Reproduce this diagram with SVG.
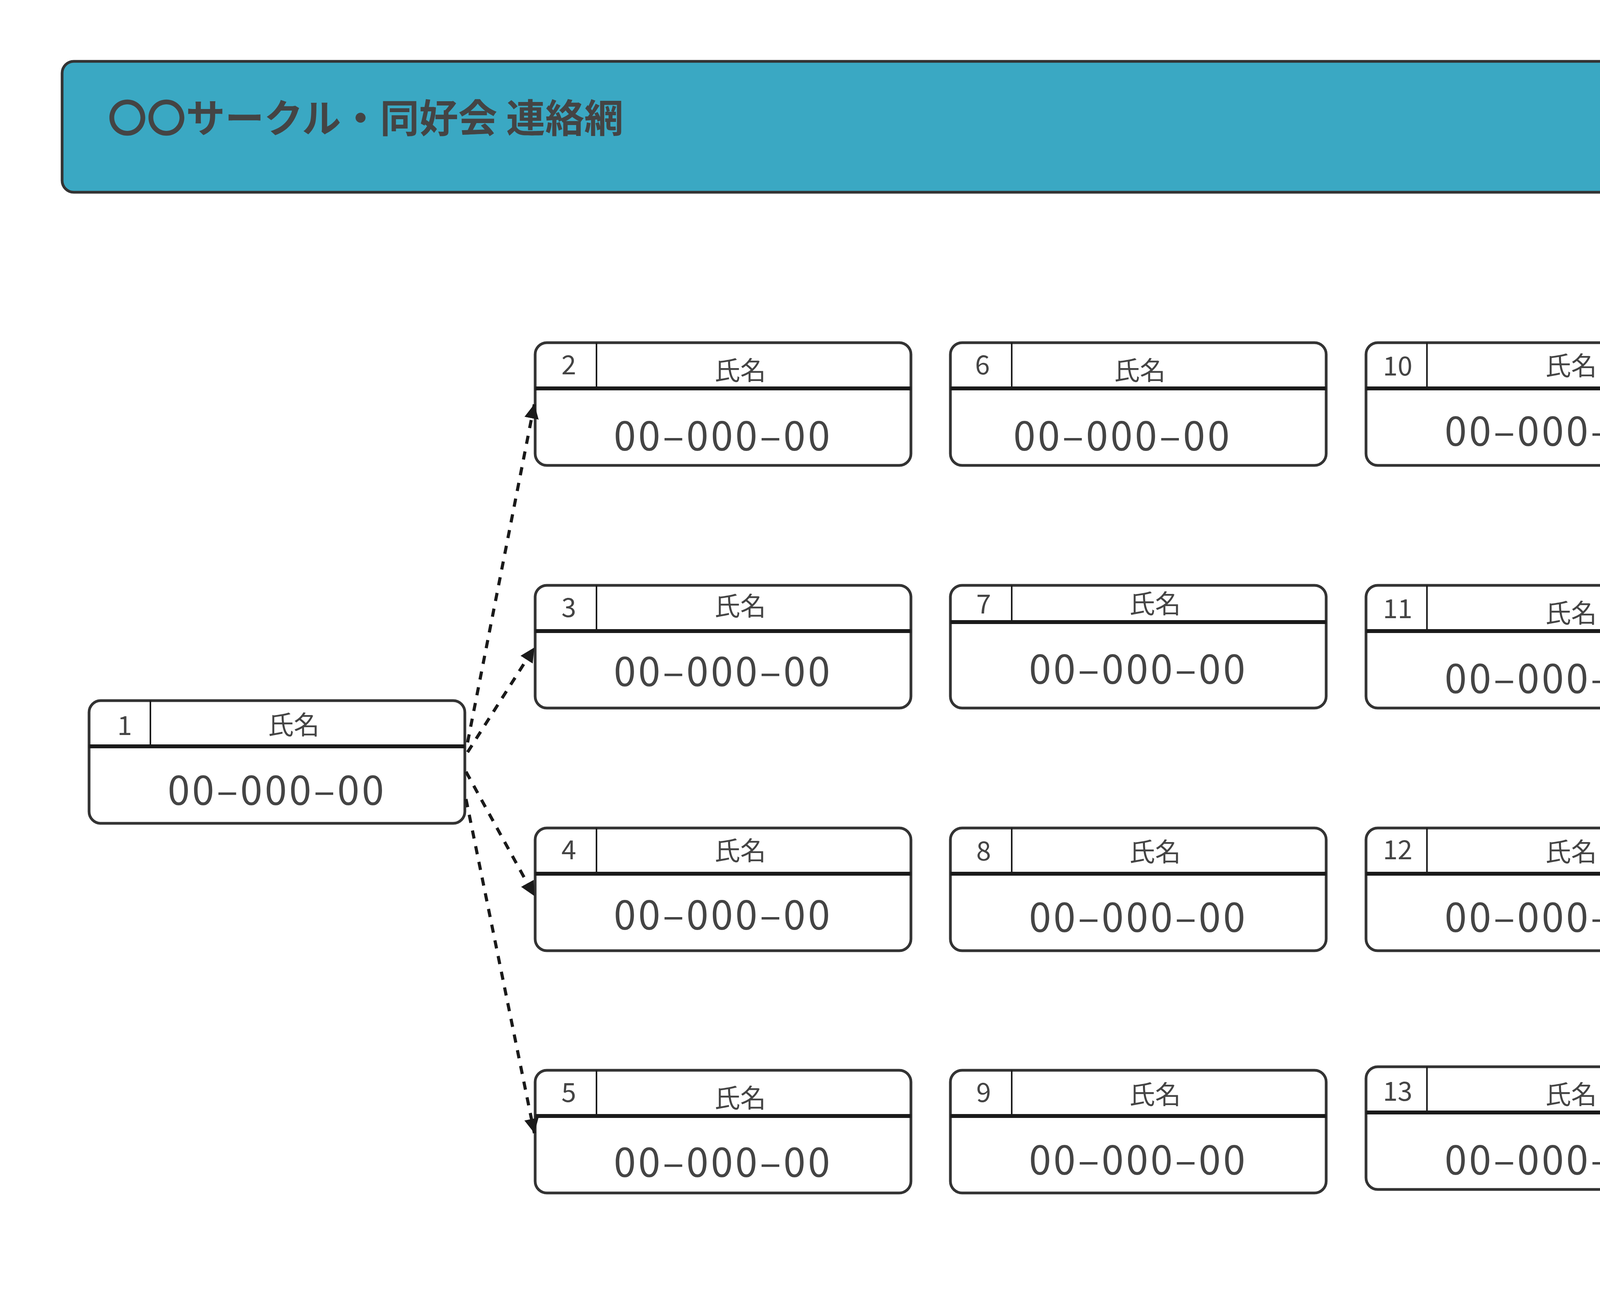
<svg xmlns="http://www.w3.org/2000/svg" width="4679" height="3309" viewBox="0 0 4679 3309">
<style>
  text { font-family: 'Noto Sans CJK JP', 'Noto Sans', sans-serif; fill: #444444; }
  .title { font-size: 100px; font-weight: 700; }
  .box { fill: #ffffff; stroke: #333333; stroke-width: 7; }
  .div { stroke: #1a1a1a; stroke-width: 10; }
  .sep { stroke: #1a1a1a; stroke-width: 4; }
  .num { font-size: 68px; text-anchor: middle; }
  .name { font-size: 66px; text-anchor: middle; }
  .tel { font-size: 102px; text-anchor: middle; letter-spacing: 6px; }
  .conn { fill: none; stroke: #1a1a1a; stroke-width: 8; stroke-dasharray: 21 20; }
</style>
<defs>
  <marker id="arrow" markerUnits="userSpaceOnUse" markerWidth="40" markerHeight="40" refX="37" refY="18.5" orient="auto">
    <path d="M0,0 L37,18.5 L0,37 Z" fill="#1a1a1a"/>
  </marker>
</defs>
<rect width="4679" height="3309" fill="#ffffff"/>
<g id="title">
  <rect x="159" y="157" width="4350" height="335" rx="30" fill="#3aa8c3" stroke="#333333" stroke-width="7"/>
  <text class="title" x="276" y="339">〇〇サークル・同好会 連絡網</text>
</g>
<g id="node-1">
  <rect class="box" x="228" y="1793" width="962" height="314" rx="30"/>
  <line class="div" x1="228" y1="1910" x2="1190" y2="1910"/>
  <line class="sep" x1="385" y1="1793" x2="385" y2="1910"/>
  <text class="num" x="319" y="1881">1</text>
  <text class="name" x="752" y="1879">氏名</text>
  <text class="tel" x="709" y="2060">00–000–00</text>
</g>
<g id="node-2">
  <rect class="box" x="1370" y="877" width="962" height="314" rx="30"/>
  <line class="div" x1="1370" y1="994" x2="2332" y2="994"/>
  <line class="sep" x1="1527" y1="877" x2="1527" y2="994"/>
  <text class="num" x="1456" y="958">2</text>
  <text class="name" x="1895" y="972">氏名</text>
  <text class="tel" x="1851" y="1153">00–000–00</text>
</g>
<g id="node-3">
  <rect class="box" x="1370" y="1498" width="962" height="314" rx="30"/>
  <line class="div" x1="1370" y1="1615" x2="2332" y2="1615"/>
  <line class="sep" x1="1527" y1="1498" x2="1527" y2="1615"/>
  <text class="num" x="1456" y="1579">3</text>
  <text class="name" x="1895" y="1575">氏名</text>
  <text class="tel" x="1851" y="1756">00–000–00</text>
</g>
<g id="node-4">
  <rect class="box" x="1370" y="2119" width="962" height="314" rx="30"/>
  <line class="div" x1="1370" y1="2236" x2="2332" y2="2236"/>
  <line class="sep" x1="1527" y1="2119" x2="1527" y2="2236"/>
  <text class="num" x="1456" y="2199">4</text>
  <text class="name" x="1895" y="2201">氏名</text>
  <text class="tel" x="1851" y="2379">00–000–00</text>
</g>
<g id="node-5">
  <rect class="box" x="1370" y="2739" width="962" height="314" rx="30"/>
  <line class="div" x1="1370" y1="2856" x2="2332" y2="2856"/>
  <line class="sep" x1="1527" y1="2739" x2="1527" y2="2856"/>
  <text class="num" x="1456" y="2820">5</text>
  <text class="name" x="1895" y="2834">氏名</text>
  <text class="tel" x="1851" y="3012">00–000–00</text>
</g>
<g id="node-6">
  <rect class="box" x="2433" y="877" width="962" height="314" rx="30"/>
  <line class="div" x1="2433" y1="994" x2="3395" y2="994"/>
  <line class="sep" x1="2590" y1="877" x2="2590" y2="994"/>
  <text class="num" x="2515" y="958">6</text>
  <text class="name" x="2918" y="972">氏名</text>
  <text class="tel" x="2874" y="1153">00–000–00</text>
</g>
<g id="node-7">
  <rect class="box" x="2433" y="1498" width="962" height="314" rx="30"/>
  <line class="div" x1="2433" y1="1592" x2="3395" y2="1592"/>
  <line class="sep" x1="2590" y1="1498" x2="2590" y2="1592"/>
  <text class="num" x="2518" y="1570">7</text>
  <text class="name" x="2957" y="1569">氏名</text>
  <text class="tel" x="2914" y="1750">00–000–00</text>
</g>
<g id="node-8">
  <rect class="box" x="2433" y="2119" width="962" height="314" rx="30"/>
  <line class="div" x1="2433" y1="2236" x2="3395" y2="2236"/>
  <line class="sep" x1="2590" y1="2119" x2="2590" y2="2236"/>
  <text class="num" x="2518" y="2202">8</text>
  <text class="name" x="2957" y="2204">氏名</text>
  <text class="tel" x="2914" y="2385">00–000–00</text>
</g>
<g id="node-9">
  <rect class="box" x="2433" y="2739" width="962" height="314" rx="30"/>
  <line class="div" x1="2433" y1="2856" x2="3395" y2="2856"/>
  <line class="sep" x1="2590" y1="2739" x2="2590" y2="2856"/>
  <text class="num" x="2518" y="2820">9</text>
  <text class="name" x="2957" y="2825">氏名</text>
  <text class="tel" x="2914" y="3006">00–000–00</text>
</g>
<g id="node-10">
  <rect class="box" x="3497" y="877" width="962" height="314" rx="30"/>
  <line class="div" x1="3497" y1="994" x2="4459" y2="994"/>
  <line class="sep" x1="3653" y1="877" x2="3653" y2="994"/>
  <text class="num" x="3578" y="961">10</text>
  <text class="name" x="4022" y="960">氏名</text>
  <text class="tel" x="3978" y="1141">00–000–00</text>
</g>
<g id="node-11">
  <rect class="box" x="3497" y="1498" width="962" height="314" rx="30"/>
  <line class="div" x1="3497" y1="1615" x2="4459" y2="1615"/>
  <line class="sep" x1="3653" y1="1498" x2="3653" y2="1615"/>
  <text class="num" x="3578" y="1582">11</text>
  <text class="name" x="4022" y="1593">氏名</text>
  <text class="tel" x="3978" y="1774">00–000–00</text>
</g>
<g id="node-12">
  <rect class="box" x="3497" y="2119" width="962" height="314" rx="30"/>
  <line class="div" x1="3497" y1="2236" x2="4459" y2="2236"/>
  <line class="sep" x1="3653" y1="2119" x2="3653" y2="2236"/>
  <text class="num" x="3578" y="2199">12</text>
  <text class="name" x="4022" y="2204">氏名</text>
  <text class="tel" x="3978" y="2385">00–000–00</text>
</g>
<g id="node-13">
  <rect class="box" x="3497" y="2730" width="962" height="314" rx="30"/>
  <line class="div" x1="3497" y1="2847" x2="4459" y2="2847"/>
  <line class="sep" x1="3653" y1="2730" x2="3653" y2="2847"/>
  <text class="num" x="3578" y="2817">13</text>
  <text class="name" x="4022" y="2825">氏名</text>
  <text class="tel" x="3978" y="3006">00–000–00</text>
</g>
<g id="connectors">
  <path class="conn" d="M1197,1900 L1368,1034" marker-end="url(#arrow)"/>
  <path class="conn" d="M1197,1925 L1368,1657" marker-end="url(#arrow)"/>
  <path class="conn" d="M1193,1975 L1368,2293" marker-end="url(#arrow)"/>
  <path class="conn" d="M1193,2045 L1368,2900" marker-end="url(#arrow)"/>
</g>
</svg>
